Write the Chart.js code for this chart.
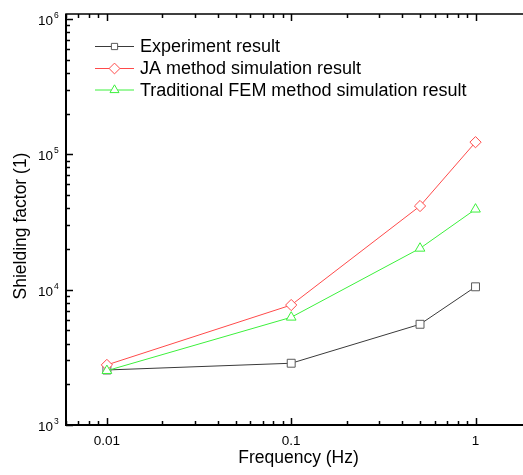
<!DOCTYPE html>
<html>
<head>
<meta charset="utf-8">
<script src="https://cdn.jsdelivr.net/npm/chart.js@4/dist/chart.umd.min.js"></script>
<style>
  html, body { margin: 0; padding: 0; background: #fff; overflow: hidden; }
  #wrap { width: 540px; height: 475px; }
</style>
</head>
<body>
<div id="wrap"><canvas id="c" width="540" height="475"></canvas></div>
<script>
// Shielding factor vs. frequency, log-log, three series.
const freqs = [0.01, 0.1, 0.5, 1];
const seriesNames = [
  "Experiment result",
  "JA method simulation result",
  "Traditional FEM method simulation result",
];
const experiment = [2550, 2860, 5550, 10500];
const jaMethod = [2780, 7700, 41500, 123000];
const femMethod = [2520, 6250, 20200, 39300];

const xTickValues = [0.01, 0.1, 1];
const xTickLabels = ["0.01", "0.1", "1"];
const yTickValues = [1e3, 1e4, 1e5, 1e6];
const yTickExps = ["3", "4", "5", "6"];

const FONT = "'Liberation Sans', Arial, sans-serif";
const styles = [
  { line: "#3a3a3a", mark: "#5a5a5a", shape: "rect", r: 5.6, lr: 4.4 },
  { line: "#ff4a4a", mark: "#ff4a4a", shape: "rectRot", r: 5.6, lr: 5.4 },
  { line: "#3cf03c", mark: "#3cf03c", shape: "triangle", r: 5.6, lr: 5.2 },
];

function marker(ctx, shape, x, y, r, color) {
  ctx.save();
  ctx.beginPath();
  if (shape === "rect") {
    const s = r * Math.SQRT1_2;
    ctx.rect(x - s, y - s, 2 * s, 2 * s);
  } else if (shape === "rectRot") {
    ctx.moveTo(x, y - r); ctx.lineTo(x + r, y); ctx.lineTo(x, y + r); ctx.lineTo(x - r, y);
    ctx.closePath();
  } else {
    const w = r * Math.sqrt(3) / 2;
    ctx.moveTo(x, y - r); ctx.lineTo(x + w, y + r / 2); ctx.lineTo(x - w, y + r / 2);
    ctx.closePath();
  }
  ctx.fillStyle = "#fff";
  ctx.fill();
  ctx.lineWidth = 1;
  ctx.strokeStyle = color;
  ctx.stroke();
  ctx.restore();
}

// Minor positions on a log axis: 1..9 x 10^k inside [min, max].
function logSteps(min, max) {
  const out = [];
  for (let k = Math.floor(Math.log10(min)); k <= Math.ceil(Math.log10(max)); k++) {
    for (let m = 1; m <= 9; m++) {
      const v = m * Math.pow(10, k);
      if (v >= min * 0.999 && v <= max * 1.001) out.push({ v, major: m === 1 });
    }
  }
  return out;
}

const frame = {
  id: "frame",
  afterDraw(chart) {
    const { ctx, chartArea: a, scales: { x, y } } = chart;
    ctx.save();
    ctx.strokeStyle = "#000";
    ctx.fillStyle = "#000";

    // box
    ctx.lineWidth = 1.5;
    ctx.strokeRect(a.left, a.top, a.right - a.left, a.bottom - a.top);
    ctx.lineWidth = 2;
    ctx.beginPath();
    ctx.moveTo(a.left, a.top); ctx.lineTo(a.left, a.bottom); ctx.lineTo(a.right, a.bottom);
    ctx.stroke();

    // inward ticks
    ctx.lineWidth = 1.5;
    ctx.beginPath();
    logSteps(x.min, x.max).forEach(({ v, major }) => {
      const px = Math.round(x.getPixelForValue(v)) + 0.5;
      const len = major ? 7 : 4;
      ctx.moveTo(px, a.bottom); ctx.lineTo(px, a.bottom - len);
      ctx.moveTo(px, a.top); ctx.lineTo(px, a.top + len);
    });
    logSteps(y.min, y.max).forEach(({ v, major }) => {
      const py = Math.round(y.getPixelForValue(v)) + 0.5;
      const len = major ? 7 : 4;
      ctx.moveTo(a.left, py); ctx.lineTo(a.left + len, py);
      ctx.moveTo(a.right, py); ctx.lineTo(a.right - len, py);
    });
    ctx.stroke();

    // x tick labels
    ctx.font = `13.5px ${FONT}`;
    ctx.textAlign = "center";
    ctx.textBaseline = "alphabetic";
    xTickValues.forEach((v, i) => ctx.fillText(xTickLabels[i], x.getPixelForValue(v), a.bottom + 20));

    // y tick labels, 10 with superscript exponent
    yTickValues.forEach((v, i) => {
      const py = y.getPixelForValue(v);
      ctx.font = `13.5px ${FONT}`;
      ctx.textAlign = "right";
      ctx.fillText("10", a.left - 13, py + 6);
      ctx.font = `8.5px ${FONT}`;
      ctx.textAlign = "left";
      ctx.fillText(yTickExps[i], a.left - 12, py - 1);
    });

    // axis titles
    ctx.font = `17.5px ${FONT}`;
    ctx.textAlign = "center";
    ctx.fillText("Frequency (Hz)", (a.left + a.right) / 2, 463);
    ctx.save();
    ctx.translate(26, 226);
    ctx.rotate(-Math.PI / 2);
    ctx.fillText("Shielding factor (1)", 0, 0);
    ctx.restore();

    // legend
    ctx.font = `18px ${FONT}`;
    ctx.textAlign = "left";
    const rows = [46, 68, 89.5];
    seriesNames.forEach((name, i) => {
      const s = styles[i], ry = rows[i];
      ctx.strokeStyle = s.line;
      ctx.lineWidth = 1;
      ctx.beginPath();
      ctx.moveTo(95, ry + 0.5); ctx.lineTo(134, ry + 0.5);
      ctx.stroke();
      marker(ctx, s.shape, 114.5, ry + 0.5, s.lr, s.mark);
      ctx.fillStyle = "#000";
      ctx.fillText(name, 140, ry + 6);
    });
    ctx.restore();
  },
};

const allSeries = [experiment, jaMethod, femMethod];

new Chart(document.getElementById("c"), {
  type: "line",
  data: {
    datasets: allSeries.map((vals, i) => ({
      label: seriesNames[i],
      data: freqs.map((f, j) => ({ x: f, y: vals[j] })),
      borderColor: styles[i].line,
      borderWidth: 1,
      tension: 0,
      pointStyle: styles[i].shape,
      pointRadius: styles[i].r,
      pointBorderWidth: 1,
      pointBorderColor: styles[i].mark,
      pointBackgroundColor: "#fff",
      order: 3 - i,
    })),
  },
  options: {
    responsive: false,
    animation: false,
    layout: { padding: { left: 66, top: 14, right: 9, bottom: 50 } },
    plugins: { legend: { display: false }, tooltip: { enabled: false } },
    scales: {
      x: { type: "logarithmic", min: 0.006, max: 2, display: false },
      y: { type: "logarithmic", min: 1000, max: 1.089e6, display: false },
    },
  },
  plugins: [frame],
});
</script>
</body>
</html>
